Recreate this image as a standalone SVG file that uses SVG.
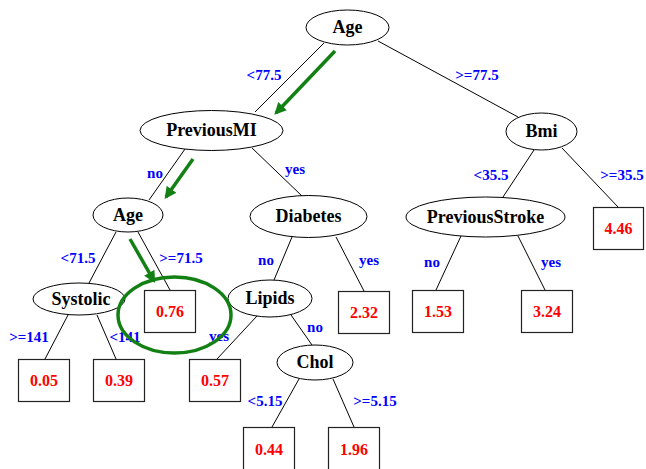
<svg xmlns="http://www.w3.org/2000/svg" width="646" height="469" viewBox="0 0 646 469">
<style>
.e{fill:#fff;stroke:#000;stroke-width:1}
.b{fill:#fff;stroke:#222;stroke-width:1.2}
.n{font-family:"Liberation Serif",serif;font-weight:bold;font-size:18px;fill:#000;text-anchor:middle}
.v{font-family:"Liberation Serif",serif;font-weight:bold;font-size:16px;fill:#ff0000;text-anchor:middle}
.l{font-family:"Liberation Serif",serif;font-weight:bold;font-size:15px;fill:#0000ff;text-anchor:middle}
.c line{stroke:#000;stroke-width:1}
.g{stroke:#138013;stroke-width:3.5;fill:none}
</style>
<defs>
<marker id="ah" viewBox="0 0 10 10" refX="8" refY="5" markerWidth="3.4" markerHeight="3.4" orient="auto">
<path d="M0,0 L10,5 L0,10 z" fill="#138013"/>
</marker>
</defs>
<rect width="646" height="469" fill="#fff"/>
<g id="connectors" class="c">
<line x1="324" y1="43" x2="255" y2="112"/>
<line x1="378" y1="41" x2="518" y2="117"/>
<line x1="185" y1="149" x2="149" y2="200"/>
<line x1="252" y1="148" x2="302" y2="196"/>
<line x1="534" y1="150" x2="503" y2="197"/>
<line x1="562" y1="148" x2="618" y2="207"/>
<line x1="116" y1="232" x2="89" y2="283"/>
<line x1="138" y1="232" x2="170" y2="290"/>
<line x1="292" y1="237" x2="274" y2="280"/>
<line x1="336" y1="237" x2="364" y2="291"/>
<line x1="461" y1="236" x2="436" y2="290"/>
<line x1="518" y1="236" x2="545" y2="290"/>
<line x1="68" y1="315" x2="45" y2="359"/>
<line x1="97" y1="315" x2="116" y2="359"/>
<line x1="257" y1="316" x2="217" y2="359"/>
<line x1="291" y1="315" x2="312" y2="345"/>
<line x1="299" y1="379" x2="272" y2="427"/>
<line x1="333" y1="379" x2="354" y2="427"/>
<text class="l" x="264" y="80">&lt;77.5</text>
<text class="l" x="477" y="80">&gt;=77.5</text>
<text class="l" x="155" y="178">no</text>
<text class="l" x="295" y="174">yes</text>
<text class="l" x="491" y="180">&lt;35.5</text>
<text class="l" x="622" y="180">&gt;=35.5</text>
<text class="l" x="78" y="263">&lt;71.5</text>
<text class="l" x="181" y="263">&gt;=71.5</text>
<text class="l" x="266" y="265">no</text>
<text class="l" x="369" y="265">yes</text>
<text class="l" x="432" y="267">no</text>
<text class="l" x="551" y="267">yes</text>
<text class="l" x="29" y="342">&gt;=141</text>
<text class="l" x="125" y="342">&lt;141</text>
<text class="l" x="219" y="341">yes</text>
<text class="l" x="315" y="332">no</text>
<text class="l" x="265" y="406">&lt;5.15</text>
<text class="l" x="375" y="406">&gt;=5.15</text>
</g>
<g id="n-age"><ellipse class="e" cx="347.5" cy="27.5" rx="41.5" ry="17.5"/><text class="n" x="347.5" y="33">Age</text></g>
<g id="n-previousmi"><ellipse class="e" cx="211.5" cy="130.5" rx="71.5" ry="20"/><text class="n" x="211.5" y="136">PreviousMI</text></g>
<g id="n-bmi"><ellipse class="e" cx="541.5" cy="131.5" rx="35.5" ry="18.5"/><text class="n" x="541.5" y="137">Bmi</text></g>
<g id="n-age2"><ellipse class="e" cx="128" cy="215" rx="35" ry="17"/><text class="n" x="128" y="221">Age</text></g>
<g id="n-diabetes"><ellipse class="e" cx="308.5" cy="216.5" rx="58.5" ry="21"/><text class="n" x="308.5" y="222">Diabetes</text></g>
<g id="n-previousstroke"><ellipse class="e" cx="485.5" cy="217" rx="79.5" ry="20"/><text class="n" x="485.5" y="223">PreviousStroke</text></g>
<g id="n-systolic"><ellipse class="e" cx="79" cy="299" rx="46" ry="16"/><text class="n" x="81" y="305">Systolic</text></g>
<g id="n-lipids"><ellipse class="e" cx="270" cy="298.5" rx="42" ry="18.5"/><text class="n" x="270" y="304">Lipids</text></g>
<g id="n-chol"><ellipse class="e" cx="315" cy="362.5" rx="38" ry="17.5"/><text class="n" x="315" y="368">Chol</text></g>
<g id="l-446"><rect class="b" x="593.5" y="207.5" width="50" height="42"/><text class="v" x="618.5" y="234">4.46</text></g>
<g id="l-076"><rect class="b" x="144.5" y="290.5" width="51" height="42"/><text class="v" x="170" y="317">0.76</text></g>
<g id="l-232"><rect class="b" x="338.5" y="291.5" width="51" height="42"/><text class="v" x="364" y="318">2.32</text></g>
<g id="l-153"><rect class="b" x="412.5" y="290.5" width="51" height="42"/><text class="v" x="438" y="317">1.53</text></g>
<g id="l-324"><rect class="b" x="521.5" y="290.5" width="51" height="42"/><text class="v" x="547" y="317">3.24</text></g>
<g id="l-005"><rect class="b" x="18.5" y="359.5" width="51" height="42"/><text class="v" x="44" y="386">0.05</text></g>
<g id="l-039"><rect class="b" x="93.5" y="359.5" width="51" height="42"/><text class="v" x="119" y="386">0.39</text></g>
<g id="l-057"><rect class="b" x="189.5" y="359.5" width="51" height="42"/><text class="v" x="215" y="386">0.57</text></g>
<g id="l-044"><rect class="b" x="243.5" y="427.5" width="51" height="45"/><text class="v" x="269" y="455">0.44</text></g>
<g id="l-196"><rect class="b" x="328.5" y="427.5" width="51" height="45"/><text class="v" x="354" y="455">1.96</text></g>
<g id="highlight">
<line class="g" x1="335" y1="51" x2="276" y2="113" marker-end="url(#ah)"/>
<line class="g" x1="193" y1="159" x2="166" y2="197" marker-end="url(#ah)"/>
<line class="g" x1="130" y1="239" x2="154" y2="281" marker-end="url(#ah)"/>
<ellipse class="g" cx="174.5" cy="315" rx="56.5" ry="38" stroke-width="3"/>
</g>
</svg>
